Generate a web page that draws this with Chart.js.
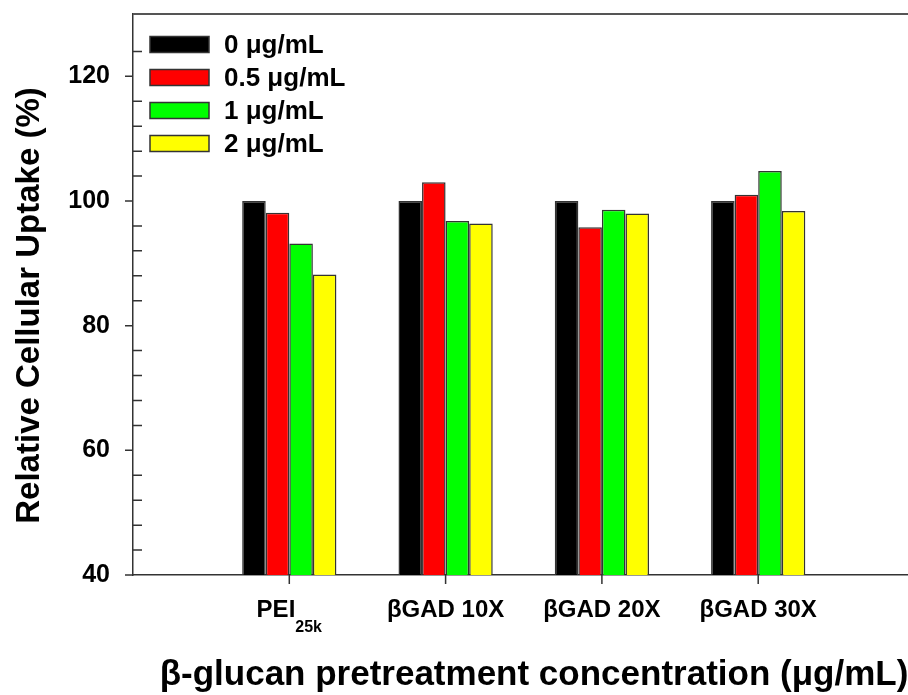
<!DOCTYPE html>
<html>
<head>
<meta charset="utf-8">
<title>Relative cellular uptake</title>
<script src="https://cdn.jsdelivr.net/npm/chart.js@4/dist/chart.umd.min.js"></script>
<style>
  html, body { margin: 0; padding: 0; background: #fff; overflow: hidden; }
  #wrap { width: 908px; height: 695px; overflow: hidden; position: relative; }
  canvas { display: block; position: absolute; left: 0; top: 0; }
</style>
</head>
<body>
<div id="wrap"><canvas id="chart" width="950" height="695"></canvas></div>
<script>
// group names on the x axis, subscripts drawn smaller after the name
var groups = ["PEI", "\u03B2GAD 10X", "\u03B2GAD 20X", "\u03B2GAD 30X"];
var groupSubs = ["25k", "", "", ""];

// pretreatment doses (legend) and bar colours
var doses = ["0 \u03BCg/mL", "0.5 \u03BCg/mL", "1 \u03BCg/mL", "2 \u03BCg/mL"];
var doseColors = ["#000000", "#ff0000", "#00ff00", "#ffff00"];

// relative uptake (%) per dose, one value per group
var uptake0 = [100, 100, 100, 100];
var uptake05 = [98.1, 103.0, 95.8, 101.0];
var uptake1 = [93.2, 96.8, 98.6, 104.8];
var uptake2 = [88.2, 96.4, 98.0, 98.4];

// y axis: labelled every 20, minor marks every 4
var yMin = 40, yMax = 130, yMinorStep = 4, yMajorStep = 20;

var xTitle = "\u03B2-glucan pretreatment concentration (\u03BCg/mL)";
var yTitle = "Relative Cellular Uptake (%)";

var FONT = "'Liberation Sans', Arial, Helvetica, sans-serif";
var AXIS_COLOR = "#333";

// pad the category axis so the groups sit at 1..4 of 0..5
function padded(values) {
    return [null].concat(values, [null]);
}

var series = [uptake0, uptake05, uptake1, uptake2];
var datasets = series.map(function (values, i) {
    return {
        label: doses[i],
        data: padded(values),
        backgroundColor: doseColors[i],
        borderColor: "#333",
        borderWidth: 1.5,
        borderSkipped: "bottom",
        barPercentage: 1,
        categoryPercentage: 0.603
    };
});

// keep the plot box where layout puts it, no room for overhanging labels
function noOverhang(scale) {
    scale.paddingTop = 0;
    scale.paddingBottom = 0;
    scale.paddingLeft = 0;
    scale.paddingRight = 0;
}

/* top edge, tick marks, group labels, legend and axis titles */
var decorations = {
    id: "decorations",
    afterDraw: function (chart) {
        var ctx = chart.ctx;
        var area = chart.chartArea;
        var xs = chart.scales.x;
        var ys = chart.scales.y;

        ctx.save();

        // top edge of the frame
        ctx.strokeStyle = "#555";
        ctx.lineWidth = 2;
        ctx.beginPath();
        ctx.moveTo(area.left, area.top);
        ctx.lineTo(area.right, area.top);
        ctx.stroke();

        // y ticks: major outwards, minor inwards
        ctx.strokeStyle = AXIS_COLOR;
        ctx.lineWidth = 1.5;
        ctx.beginPath();
        ys.ticks.forEach(function (t) {
            var y = ys.getPixelForValue(t.value);
            if (t.value % yMajorStep === 0) {
                ctx.moveTo(area.left - 8, y);
                ctx.lineTo(area.left, y);
            } else if ((t.value - yMin) % yMinorStep === 0) {
                ctx.moveTo(area.left, y);
                ctx.lineTo(area.left + 9, y);
            }
        });
        // x ticks under each group
        groups.forEach(function (g, i) {
            var x = xs.getPixelForValue(i + 1);
            ctx.moveTo(x, area.bottom);
            ctx.lineTo(x, area.bottom + 9);
        });
        ctx.stroke();

        // group labels, with subscript where there is one
        ctx.fillStyle = "#000";
        ctx.textBaseline = "alphabetic";
        ctx.textAlign = "left";
        groups.forEach(function (g, i) {
            var x = xs.getPixelForValue(i + 1);
            ctx.font = "bold 24px " + FONT;
            var w = ctx.measureText(g).width;
            var sub = groupSubs[i];
            var sw = 0;
            if (sub) {
                ctx.font = "bold 16px " + FONT;
                sw = ctx.measureText(sub).width;
            }
            var x0 = x - (w + sw) / 2;
            ctx.font = "bold 24px " + FONT;
            ctx.fillText(g, x0, area.bottom + 42);
            if (sub) {
                ctx.font = "bold 16px " + FONT;
                ctx.fillText(sub, x0 + w, area.bottom + 57);
            }
        });

        // legend in the upper left of the plot
        ctx.textBaseline = "middle";
        chart.data.datasets.forEach(function (ds, i) {
            var cy = area.top + 30.5 + i * 33;
            ctx.fillStyle = ds.backgroundColor;
            ctx.fillRect(area.left + 17, cy - 8, 59, 16);
            ctx.strokeStyle = "#333";
            ctx.lineWidth = 1.5;
            ctx.strokeRect(area.left + 17, cy - 8, 59, 16);
            ctx.fillStyle = "#000";
            ctx.font = "bold 26px " + FONT;
            ctx.fillText(ds.label, area.left + 91, cy + 1);
        });

        // axis titles
        ctx.textAlign = "center";
        ctx.textBaseline = "alphabetic";
        ctx.font = "bold 35px " + FONT;
        ctx.fillText(xTitle, 534, 685);

        ctx.translate(39, (area.top + area.bottom) / 2 + 11);
        ctx.rotate(-Math.PI / 2);
        ctx.font = "bold 33px " + FONT;
        ctx.fillText(yTitle, 0, 0);

        ctx.restore();
    }
};

var chart = new Chart(document.getElementById("chart"), {
    type: "bar",
    data: {
        labels: padded(groups).map(function (g) { return g || ""; }),
        datasets: datasets
    },
    options: {
        responsive: false,
        animation: false,
        devicePixelRatio: 1,
        layout: { padding: { top: 14, right: 35.5, left: 0, bottom: 0 } },
        plugins: {
            legend: { display: false },
            tooltip: { enabled: false }
        },
        scales: {
            x: {
                type: "category",
                offset: false,
                z: 1,
                grid: { display: false, drawTicks: false },
                border: { display: true, color: AXIS_COLOR, width: 1.5 },
                ticks: { display: false },
                afterFit: function (scale) {
                    scale.height = 120;
                    noOverhang(scale);
                }
            },
            y: {
                min: yMin,
                max: yMax,
                grid: { display: false, drawTicks: false },
                border: { display: true, color: AXIS_COLOR, width: 1.5 },
                ticks: {
                    stepSize: yMinorStep,
                    autoSkip: false,
                    padding: 23,
                    color: "#000",
                    font: { family: FONT, size: 25, weight: "bold" },
                    callback: function (v) { return v % yMajorStep === 0 ? v : ""; }
                },
                afterFit: function (scale) {
                    scale.width = 133;
                    noOverhang(scale);
                }
            }
        }
    },
    plugins: [decorations]
});
</script>
</body>
</html>
